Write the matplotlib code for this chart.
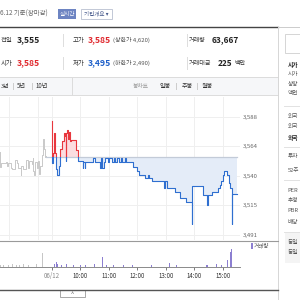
import matplotlib
matplotlib.use('Agg')
import matplotlib.pyplot as plt
from matplotlib.patches import Rectangle
from matplotlib.lines import Line2D

plt.rcParams['font.family'] = ['Noto Sans CJK KR', 'DejaVu Sans']

# ---------------- data ----------------
prev_close = 3555

prior_times = ["13:40", "13:41", "13:43", "13:52", "13:55", "13:58", "14:03", "14:05",
               "14:12", "14:13", "14:16", "14:19", "14:24", "14:25", "14:28", "14:34",
               "14:36", "14:39", "14:42", "14:47", "14:49", "14:51", "14:53", "14:55",
               "14:58", "15:00", "15:03", "15:05", "15:08", "15:11", "15:13", "15:16", "15:18"]
prior_prices = [3559, 3547, 3550, 3551, 3548, 3550, 3546, 3545,
                3545, 3553, 3550, 3546, 3540, 3548, 3545, 3545,
                3553, 3546, 3552, 3549, 3554, 3544, 3540, 3551,
                3546, 3552, 3541, 3548, 3557, 3570, 3562, 3555, 3556]

today_times = ["09:00", "09:01", "09:02", "09:04", "09:07", "09:09", "09:11", "09:14",
               "09:17", "09:21", "09:25", "09:27", "09:29", "09:30", "09:32", "09:34",
               "09:36", "09:38", "09:40", "09:50", "09:55", "10:05", "10:06", "10:09",
               "10:10", "10:26", "10:30", "10:41", "10:43", "10:45", "10:49", "10:52",
               "10:58", "11:01", "11:06", "11:10", "11:13", "11:18", "11:22", "11:25",
               "11:28", "11:33", "11:36", "11:51", "11:59", "12:03", "12:16", "12:22",
               "12:25", "12:30", "12:57", "12:58", "13:03", "13:19", "13:29", "13:42",
               "13:55", "13:56", "14:18", "14:27", "14:29", "14:37", "14:49", "14:54",
               "14:56", "15:00", "15:03", "15:06", "15:08", "15:13", "15:16", "15:19",
               "15:20", "15:30"]
today_prices = [3585, 3550, 3558, 3575, 3558, 3545, 3540, 3548,
                3562, 3568, 3575, 3572, 3552, 3575, 3577, 3570,
                3576, 3568, 3569, 3561, 3552, 3546, 3551, 3546,
                3551, 3554, 3551, 3546, 3554, 3546, 3551, 3554,
                3551, 3554, 3551, 3554, 3551, 3554, 3551, 3554,
                3551, 3554, 3551, 3547, 3544, 3540, 3538, 3540,
                3538, 3535, 3530, 3535, 3530, 3526, 3521, 3518,
                3500, 3531, 3524, 3516, 3524, 3526, 3530, 3532,
                3535, 3540, 3544, 3544, 3540, 3534, 3530, 3500,
                3525, 3525]

prior_vol_times = ["13:42", "13:48", "13:58", "14:07", "14:15", "14:22", "14:30",
                   "14:40", "14:52", "14:58", "15:05", "15:10", "15:13"]
prior_vols = [300, 400, 250, 500, 350, 300, 450, 300, 600, 500, 1400, 2800, 700]

vol_times = ["09:00", "09:02", "09:05", "09:09", "09:12", "09:20", "09:30", "09:45",
             "10:00", "10:10", "10:20", "10:30", "10:47", "10:55", "11:10", "11:30",
             "11:50", "12:10", "12:30", "12:50", "13:08", "13:23", "13:30", "13:34",
             "13:55", "14:10", "14:26", "14:28", "14:47", "14:52", "14:58", "15:10",
             "15:17", "15:19", "15:30"]
vols = [900, 800, 600, 900, 500, 400, 500, 300,
        400, 350, 300, 500, 2000, 400, 350, 300,
        400, 300, 250, 300, 800, 400, 500, 300,
        4300, 300, 300, 350, 500, 600, 400, 1300,
        3000, 3600, 2300]

y_ticks = [3491, 3515.25, 3539.5, 3563.75, 3588]
y_labels = ["3,491", "3,515", "3,540", "3,564", "3,588"]
x_ticks = ["09:00", "10:00", "11:00", "12:00", "13:00", "14:00", "15:00"]
x_labels = ["06/12", "10:00", "11:00", "12:00", "13:00", "14:00", "15:00"]
prior_grid = ["14:00", "15:00"]


def t_today(s):
    h, m = map(int, s.split(':'))
    return h * 60 + m - 540


def t_prior(s):
    h, m = map(int, s.split(':'))
    return h * 60 + m - 930


# ---------------- figure helpers ----------------
W = H = 300
fig = plt.figure(figsize=(3, 3), dpi=100)
fig.patch.set_facecolor('white')


def fx(x):
    return x / W


def fy(y):
    return 1 - y / H


def txt(x, y, s, size=4.5, color='#333333', weight='normal', ha='left', **kw):
    fig.text(fx(x), fy(y), s, fontsize=size, color=color, fontweight=weight,
             ha=ha, va='center', **kw)


def hline(x0, x1, y, color, lw=0.7):
    fig.add_artist(Line2D([fx(x0), fx(x1)], [fy(y), fy(y)], color=color, lw=lw))


def vline(x, y0, y1, color, lw=0.7):
    fig.add_artist(Line2D([fx(x), fx(x)], [fy(y0), fy(y1)], color=color, lw=lw))


def rect(x, y, w, h, fc, ec='none', lw=0.6):
    fig.add_artist(Rectangle((fx(x), fy(y + h)), w / W, h / H, fc=fc, ec=ec, lw=lw))


# ---------------- header ----------------
txt(0.5, 14, "6.12 기준(장마감)", size=4.6, color='#666666')
rect(58, 9, 18, 10, fc='#6d84c2')
txt(67, 14, "실시간", size=4.0, color='white', ha='center')
rect(81, 9, 31, 10, fc='white', ec='#b8bfd0')
txt(96.5, 14, "기업개요 ▾", size=4.0, color='#4a5d8e', ha='center')

hline(0, 278, 27, '#444444', lw=1.0)
hline(278, 300, 27, '#cccccc', lw=0.7)

txt(0.5, 40, "전일", size=4.6, color='#333333')
txt(17, 40, "3,555", size=6.2, color='#222222', weight='bold')
vline(63, 34, 46, '#dddddd')
txt(73, 40, "고가", size=4.6, color='#333333')
txt(88, 40, "3,585", size=6.2, color='#e0282e', weight='bold')
txt(113, 40, "(상한가 4,620)", size=4.3, color='#555555')
vline(187, 34, 46, '#dddddd')
txt(189, 40, "거래량", size=4.4, color='#333333')
txt(212, 40, "63,667", size=6.0, color='#222222', weight='bold')

txt(0.5, 63, "시가", size=4.6, color='#333333')
txt(17, 63, "3,585", size=6.2, color='#e0282e', weight='bold')
vline(63, 57, 69, '#dddddd')
txt(73, 63, "저가", size=4.6, color='#333333')
txt(88, 63, "3,495", size=6.2, color='#1d5fc9', weight='bold')
txt(113, 63, "(하한가 2,490)", size=4.3, color='#555555')
vline(187, 57, 69, '#dddddd')
txt(189, 63, "거래대금", size=4.4, color='#333333')
txt(218, 63, "225", size=6.0, color='#222222', weight='bold')
txt(234, 63, "백만", size=4.4, color='#333333')

# ---------------- toolbar ----------------
rect(0, 77, 278, 18, fc='#f6f7f9', ec='none')
hline(0, 278, 77, '#dcdcdc')
hline(0, 278, 95, '#dcdcdc')
vline(72, 77, 95, '#dcdcdc')
txt(0.5, 86, "3년", size=4.2, color='#333333')
vline(13, 83, 89, '#cccccc')
txt(17, 86, "5년", size=4.4, color='#333333')
vline(32, 83, 89, '#cccccc')
txt(36, 86, "10년", size=4.4, color='#333333')
txt(133, 86, "봉차트", size=4.2, color='#999999')
txt(160, 86, "일봉", size=4.4, color='#333333')
vline(176, 83, 89, '#cccccc')
txt(182, 86, "주봉", size=4.4, color='#333333')
vline(197, 83, 89, '#cccccc')
txt(202, 86, "월봉", size=4.4, color='#333333')

# ---------------- right panel ----------------
vline(278, 27, 300, '#d6d6d6')
rect(285, 34, 20, 19, fc='white', ec='#cfcfcf')
right_rows = [(65, "시가", True), (75, "시가", False), (85, "상장", False),
              (93, "액면", False), (117, "외국", False), (127, "외국", False),
              (138, "외국", True), (157, "투자", False), (170, "52주", False),
              (190, "PER", False), (200, "추정", False), (211, "PBR", False),
              (222, "배당", False), (243, "동일", False), (253, "동일", False)]
rect(285, 233, 20, 30, fc='#f4f4f4')
for yy, s, b in right_rows:
    txt(287.5, yy, s, size=4.1, color='#222222' if b else '#555555',
        weight='bold' if b else 'normal')
for yy in [106, 147, 180, 232]:
    hline(284, 300, yy, '#e2e2e2')

# ---------------- main price chart ----------------
X0, X1 = -109.6, 396.3
ax = fig.add_axes([fx(0), fy(240), 240 / W, (240 - 97) / H])
ax.set_xlim(X0, X1)
ax.set_ylim(3486.9, 3604.4)
for s in ax.spines.values():
    s.set_visible(False)

grid_x = [t_prior(s) for s in prior_grid] + [t_today(s) for s in x_ticks]
for gx in grid_x:
    ax.axvline(gx, color='#efefef', lw=0.7, zorder=0)
for gy in y_ticks:
    ax.axhline(gy, color='#efefef', lw=0.7, zorder=0)

ax.set_xticks([])
ax.yaxis.tick_right()
ax.set_yticks(y_ticks)
ax.set_yticklabels(y_labels)
ax.tick_params(axis='y', length=0, pad=2.2, labelsize=4.3, labelcolor='#666666')

px = [t_prior(s) for s in prior_times]
ax.plot(px, prior_prices, drawstyle='steps-post', color='#c9c9c9', lw=0.7, zorder=2)

tx = [t_today(s) for s in today_times]
ax.plot([t_prior("15:18"), t_today("15:30")], [prev_close, prev_close],
        color='#c3cbd8', lw=0.9, zorder=2)

above = Rectangle((X0, prev_close), X1 - X0, 200, transform=ax.transData)
below = Rectangle((X0, prev_close - 200), X1 - X0, 200, transform=ax.transData)

f1 = ax.fill_between(tx, today_prices, prev_close, step='post', color='#fcdde0', lw=0, zorder=1)
f1.set_clip_path(above)
f2 = ax.fill_between(tx, today_prices, prev_close, step='post', color='#e4ecf8', lw=0, zorder=1)
f2.set_clip_path(below)

l1, = ax.plot(tx, today_prices, drawstyle='steps-post', color='#e8373e', lw=0.8, zorder=3)
l1.set_clip_path(above)
l2, = ax.plot(tx, today_prices, drawstyle='steps-post', color='#2f6fd0', lw=0.8, zorder=3)
l2.set_clip_path(below)

# ---------------- volume chart ----------------
hline(0, 278, 241, '#9a9a9a', lw=0.8)
vax = fig.add_axes([fx(0), fy(266.7), 240 / W, (266.7 - 242) / H])
vax.set_xlim(X0, X1)
vax.set_ylim(0, 5000)
for s in vax.spines.values():
    s.set_visible(False)
vax.spines['bottom'].set_visible(True)
vax.spines['bottom'].set_color('#8a8a8a')
vax.spines['bottom'].set_linewidth(0.7)
vax.bar([t_prior(s) for s in prior_vol_times], prior_vols, width=1.5, color='#c6c6c6', lw=0)
vax.bar([t_today(s) for s in vol_times], vols, width=1.5, color='#8c7fd1', lw=0)
vax.set_yticks([])
vax.set_xticks([t_today(s) for s in x_ticks])
vax.set_xticklabels(x_labels)
vax.tick_params(axis='x', length=2.5, width=0.6, color='#666666', pad=1.5,
                labelsize=4.4, labelcolor='#333333')
vax.get_xticklabels()[0].set_color('#888888')

rect(251, 243, 1.5, 6, fc='#8c7fd1')
txt(254, 246, "거래량", size=4.0, color='#555555')

# ---------------- bottom ----------------
hline(0, 278, 290, '#555555', lw=1.0)
rect(60, 290, 25, 7, fc='white', ec='#9a9a9a')
txt(72.5, 294, "^", size=4.0, color='#555555', ha='center')

fig.savefig('out.png', dpi=100, facecolor='white')
